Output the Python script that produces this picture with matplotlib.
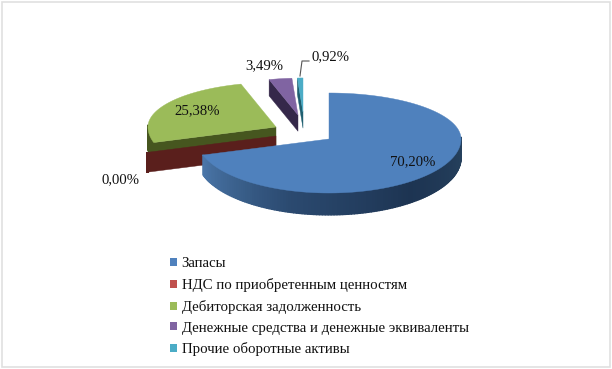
import numpy as np
import matplotlib
matplotlib.use('Agg')
import matplotlib.pyplot as plt
from matplotlib.collections import PolyCollection
from matplotlib.patches import Patch, Polygon, Rectangle
from matplotlib.colors import LinearSegmentedColormap

plt.rcParams['font.family'] = ['Liberation Serif', 'DejaVu Serif']

names = ['Запасы', 'НДС по приобретенным ценностям', 'Дебиторская задолженность',
         'Денежные средства и денежные эквиваленты', 'Прочие оборотные активы']
values = [70.20, 0.00, 25.38, 3.49, 0.92]
colors = ['#4f81bd', '#c0504d', '#9bbb59', '#8064a2', '#4bacc6']
side_colors = ['#2a4a72', '#5a1f1c', '#46561f', '#35284a', '#1f5f70']

# pie layout, in image pixels
cx, cy = 329, 139
rx, ry_back, ry_front = 132, 46, 54
depth = 19
offsets = [(0, 0), (-53, -3), (-53, -12), (-31, -24), (-26, -27)]
scales = [1, 1.02, 0.97, 0.8, 0.74]
label_pos = [(413, 162), (121, 180), (197, 111), (264, 66), (330, 57)]
draw_order = [2, 1, 3, 4, 0]

fig = plt.figure(figsize=(6.12, 3.69), dpi=100)
ax = fig.add_axes([0, 0, 1, 1])
ax.set_xlim(0, 612)
ax.set_ylim(369, 0)
ax.axis('off')

wall_cmap = LinearSegmentedColormap.from_list('wall', ['#4a76a8', '#2b4a70', '#1d3452', '#27435f'])


def rim(t, ox, oy, s):
    # point on the pie edge, angle in degrees clockwise from the top
    t = np.radians(t)
    c = np.cos(t)
    ry = np.where(c > 0, ry_back, ry_front)
    return ox + cx + rx * s * np.sin(t), oy + cy - ry * s * c


def drop(t):
    return depth * (1 - 0.15 * np.cos(np.radians(t)))


total = sum(values)
ends = np.cumsum(values) / total * 360
starts = ends - np.array(values) / total * 360

for i in draw_order:
    a1, a2 = starts[i], ends[i]
    ox, oy = offsets[i]
    s = scales[i]
    px, py = cx + ox, cy + oy
    tt = np.linspace(a1, a2, 200)
    xs, ys = rim(tt, ox, oy, s)

    # cut face, the one that looks to the viewer
    if a1 > 180:
        ex, ey = rim(a1, ox, oy, s)
        d = drop(a1)
        ax.add_patch(Polygon([(px, py), (ex, ey), (ex, ey + d), (px, py + d)],
                             fc=side_colors[i], ec=side_colors[i], lw=0.3))

    # outer wall, split in strips for the shading
    front = np.cos(np.radians(tt)) <= 0.05
    if front.any():
        ft = tt[front]
        fx, fy = xs[front], ys[front]
        fd = drop(ft)
        strips = [[(fx[k], fy[k]), (fx[k + 1], fy[k + 1]),
                   (fx[k + 1], fy[k + 1] + fd[k + 1]), (fx[k], fy[k] + fd[k])]
                  for k in range(len(ft) - 1)]
        if i == 0:
            shade = wall_cmap(np.linspace(1, 0, len(strips)))
        else:
            shade = [side_colors[i]] * len(strips)
        ax.add_collection(PolyCollection(strips, facecolors=shade, edgecolors=shade, linewidths=1.0))

    if values[i] > 0:
        ax.add_patch(Polygon(np.vstack([[px, py], np.column_stack([xs, ys])]),
                             fc=colors[i], ec=colors[i], lw=0.3))

# data labels
for v, (lx, ly) in zip(values, label_pos):
    ax.text(lx, ly, f'{v:.2f}'.replace('.', ',') + '%', fontsize=10.6, color='#111111',
            ha='center', va='center')
ax.plot([300, 302, 309], [76, 61, 61], color='#555555', lw=0.8)

handles = [Patch(fc=c, ec='none') for c in colors]
ax.legend(handles, names, loc='upper left', bbox_to_anchor=(160 / 612, 1 - 247 / 369), frameon=False,
          fontsize=10.7, labelspacing=0.52, handlelength=0.45, handleheight=0.45, handletextpad=0.3,
          borderpad=0.2, labelcolor='#111111')

# chart frame
ax.add_patch(Rectangle((1.5, 1.5), 608.5, 365.5, fc='none', ec='#e0e0e0', lw=1.2))

fig.savefig('out.png', dpi=100)
